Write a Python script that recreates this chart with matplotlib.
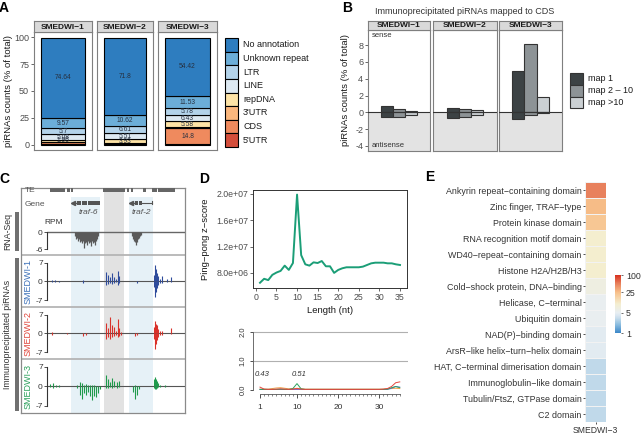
import matplotlib
matplotlib.use("Agg")
import matplotlib.pyplot as plt
import numpy as np
from matplotlib.colors import LinearSegmentedColormap, LogNorm
from matplotlib.patches import Rectangle

plt.rcParams['font.family'] = ['Liberation Sans', 'DejaVu Sans']

# ---------------- data ----------------
# Panel A
samples = ["SMEDWI\u22121", "SMEDWI\u22122", "SMEDWI\u22123"]
categories = ["5'UTR", "CDS", "3'UTR", "repDNA", "LINE", "LTR", "Unknown repeat", "No annotation"]
cat_colors = ["#d44e3b", "#ef8a5e", "#fbb77d", "#fde3a6", "#dde9f2", "#b3d3ea", "#6caed8", "#2e7dbf"]
pct_wi1 = [0.8, 1.2, 0.6, 1.96, 5.08, 5.7, 9.57, 74.64]
pct_wi2 = [0.4, 0.5, 0.4, 3.93, 5.51, 6.61, 10.62, 71.8]
pct_wi3 = [0.6, 14.8, 0.6, 5.58, 6.43, 5.78, 11.53, 54.42]

# Panel B
map_groups = ["map 1", "map 2 \u2013 10", "map >10"]
map_colors = ["#3c4244", "#8d9396", "#cbd0d3"]
sense_wi1 = [0.8, 0.4, 0.2]
anti_wi1 = [-0.6, -0.5, -0.3]
sense_wi2 = [0.5, 0.4, 0.3]
anti_wi2 = [-0.7, -0.5, -0.3]
sense_wi3 = [4.9, 8.1, 1.8]
anti_wi3 = [-0.8, -0.3, -0.1]

# Panel C (genomic position, arbitrary kb units)
te_blocks = [(3, 15), (20, 3), (24, 2), (56, 22), (80, 1.5), (84, 1.5), (96, 3), (105, 5), (111, 17)]
traf6_exons = [(30, 4), (34.8, 5), (40.6, 5), (46.4, 6.6)]
traf2_exons = [(88, 3), (91.6, 3.4)]
rna_pos = [28, 29, 30, 31, 32, 33, 34, 35, 36, 37, 38, 39, 40, 41, 42, 43, 44, 45, 46, 47, 48, 49, 50, 51,
           85, 86, 87, 88, 89, 90, 91, 92, 93, 94]
rna_val = [-1.5, -2.5, -2, -3, -2.5, -3.5, -3, -4, -3, -5.5, -4, -3.5, -4.5, -3, -4, -3.5, -5, -3, -4, -3.5, -4.5, -3, -2.5, -1.5,
           -1.5, -2.5, -3, -3.5, -4.5, -3.5, -2.5, -2, -1.5, -1]
wi1_pos = [5, 8, 12, 36, 59, 61, 63, 65, 67, 69, 71, 72, 90, 107, 108, 109, 110, 111, 113, 115, 120, 124]
wi1_sense = [0.3, 0.3, 0.2, 0.3, 3.5, 2.5, 1.5, 3.0, 1.5, 1.0, 4.0, 2.0, 0.2, 2.5, 6.0, 4.5, 3.0, 2.0, 1.0, 2.0, 0.8, 1.5]
wi1_anti = [-0.3, -0.2, -0.2, -0.6, -1.5, -1.0, -0.5, -1.0, -0.5, -0.3, -1.5, -0.8, -0.6, -2.0, -5.8, -4.0, -2.5, -1.5, -0.5, -0.5, -0.2, -0.3]
wi2_pos = [5, 20, 36, 39, 59, 61, 63, 65, 67, 69, 71, 72, 74, 88, 90, 107, 108, 109, 110, 111, 113, 115, 124]
wi2_sense = [0.3, 0.2, 0.2, 0.2, 4.0, 2.0, 6.0, 3.0, 2.5, 1.0, 5.5, 2.0, 0.5, 0.2, 0.2, 2.5, 4.5, 3.5, 3.0, 1.5, 1.0, 0.8, 2.0]
wi2_anti = [-0.5, -0.3, -1.0, -0.8, -2.0, -1.5, -2.0, -1.5, -1.0, -0.5, -1.5, -1.0, -0.5, -1.0, -0.5, -2.0, -5.8, -4.0, -2.5, -1.5, -0.8, -0.5, -0.3]
wi3_pos = [3, 6, 9, 12, 30, 33, 35, 37, 39, 41, 43, 45, 47, 49, 51, 53, 59, 61, 63, 65, 67, 70, 72,
           86, 88, 90, 92, 107, 108, 109, 110, 111, 113, 118]
wi3_sense = [0.8, 1.0, 0.6, 0.5, 0.3, 1.5, 1.0, 0.5, 0.8, 0.5, 0.3, 0.5, 0.3, 0.2, 0.2, 0.1, 4.0, 2.5, 1.5, 3.0, 2.0, 1.5, 2.0,
             0.2, 0.3, 0.2, 0.1, 2.5, 3.5, 2.5, 2.0, 1.0, 0.5, 0.3]
wi3_anti = [-0.3, -0.5, -0.2, -0.2, -0.5, -3.0, -4.5, -2.5, -3.0, -2.0, -3.5, -5.0, -3.5, -4.0, -2.5, -1.0, -0.5, -0.5, -0.3, -0.5, -0.3, -0.5, -0.3,
            -2.0, -4.7, -3.0, -1.0, -0.5, -1.0, -0.8, -0.5, -0.3, -0.2, -0.1]
track_names = ["SMEDWI-1", "SMEDWI-2", "SMEDWI-3"]
track_colors = ["#2f4c9c", "#d9312a", "#1f9a4c"]
label_colors = ["#3a6fb8", "#e0453a", "#2aa05a"]

# Panel D
length_nt = list(range(1, 36))
pingpong_z = [6.5e6, 7.1e6, 6.9e6, 7.7e6, 8.05e6, 8.3e6, 9.1e6, 8.45e6, 9.5e6, 1.99e7,
              1.07e7, 9.3e6, 9.1e6, 9.6e6, 9.5e6, 9.8e6, 9.0e6, 9.0e6, 8.0e6, 8.45e6,
              8.7e6, 8.85e6, 8.85e6, 8.85e6, 8.85e6, 8.95e6, 9.2e6, 9.45e6, 9.55e6, 9.55e6,
              9.55e6, 9.45e6, 9.45e6, 9.3e6, 9.2e6]
ov_red = [0.10, 0.03, 0.02, 0.02, 0.03, 0.04, 0.03, 0.02, 0.03, 0.05, 0.03, 0.02, 0.02, 0.02, 0.02, 0.02, 0.02, 0.02,
          0.02, 0.02, 0.02, 0.02, 0.02, 0.02, 0.02, 0.02, 0.02, 0.02, 0.02, 0.02, 0.03, 0.05, 0.12, 0.25, 0.28]
ov_green = [0.02, 0.02, 0.02, 0.02, 0.02, 0.03, 0.02, 0.02, 0.05, 0.22, 0.04, 0.02, 0.02, 0.02, 0.02, 0.02, 0.02, 0.02,
            0.02, 0.02, 0.02, 0.02, 0.02, 0.02, 0.02, 0.02, 0.02, 0.02, 0.02, 0.02, 0.02, 0.03, 0.08, 0.12, 0.08]
ov_orange = [0.03, 0.03, 0.03, 0.05, 0.07, 0.08, 0.06, 0.04, 0.04, 0.06, 0.04, 0.03, 0.03, 0.03, 0.03, 0.03, 0.03, 0.03,
             0.03, 0.03, 0.03, 0.03, 0.03, 0.03, 0.03, 0.03, 0.03, 0.03, 0.03, 0.03, 0.03, 0.04, 0.05, 0.06, 0.05]
ov_blue = [0.02] * 32 + [0.06, 0.12, 0.10]
ov_labels = ["0.43", "0.51"]
ov_label_x = [1.6, 10.6]

# Panel E
domains = ["Ankyrin repeat\u2212containing domain", "Zinc finger, TRAF\u2212type", "Protein kinase domain",
           "RNA recognition motif domain", "WD40\u2212repeat\u2212containing domain", "Histone H2A/H2B/H3",
           "Cold\u2212shock protein, DNA\u2212binding", "Helicase, C\u2212terminal", "Ubiquitin domain",
           "NAD(P)\u2212binding domain", "ArsR\u2212like helix\u2212turn\u2212helix domain",
           "HAT, C\u2212terminal dimerisation domain", "Immunoglobulin\u2212like domain",
           "Tubulin/FtsZ, GTPase domain", "C2 domain"]
domain_vals = [50, 26, 22, 10, 10, 10, 7, 5.2, 5.2, 4.6, 4.6, 3.1, 3.1, 3.1, 3.1]

# ---------------- figure ----------------
W, H = 643, 436
fig = plt.figure(figsize=(W / 100, H / 100), dpi=100)
TXT = "#4d4d4d"
GRID = "#7f7f7f"


def add_ax(x0, y0, x1, y1, **kw):
    return fig.add_axes([x0 / W, 1 - y1 / H, (x1 - x0) / W, (y1 - y0) / H], **kw)


def ftext(x, y, s, **kw):
    return fig.text(x / W, 1 - y / H, s, **kw)


def frect(x0, y0, x1, y1, **kw):
    fig.add_artist(Rectangle((x0 / W, 1 - y1 / H), (x1 - x0) / W, (y1 - y0) / H,
                             transform=fig.transFigure, **kw))


def style_frame(ax, color=GRID, lw=0.8):
    for s in ax.spines.values():
        s.set_color(color)
        s.set_linewidth(lw)


def strip(x0, y0, x1, y1, label):
    s = add_ax(x0, y0, x1, y1)
    s.set_facecolor("#d9d9d9")
    style_frame(s)
    s.set_xticks([]); s.set_yticks([])
    s.text(0.5, 0.45, label, ha="center", va="center", fontsize=6, fontweight="bold",
           color="#1a1a1a", transform=s.transAxes)


# panel letters
for lab, x, y in [("A", 4, 8), ("B", 347, 8), ("C", 4, 179), ("D", 204, 179), ("E", 430, 177)]:
    ftext(x, y, lab, fontsize=10, fontweight="bold", ha="center", va="center")

# ---------- Panel A ----------
a_x = [(34, 92), (97, 153), (158, 217)]
a_data = [pct_wi1, pct_wi2, pct_wi3]
for i, ((x0, x1), vals) in enumerate(zip(a_x, a_data)):
    ax = add_ax(x0, 32, x1, 150)
    bottom = 0.0
    for v, c in zip(vals, cat_colors):
        ax.bar(1, v, bottom=bottom, width=0.9, color=c, edgecolor="black", linewidth=0.8)
        if v >= 1.5:
            ax.text(1, bottom + v / 2, f"{v:g}", ha="center", va="center", fontsize=4.8, color="#263040")
        bottom += v
    ax.set_xlim(0.4, 1.6)
    ax.set_ylim(-5, 105)
    ax.set_xticks([])
    style_frame(ax)
    if i == 0:
        ax.set_yticks([0, 25, 50, 75, 100])
        ax.tick_params(axis="y", labelsize=6.5, colors=TXT, length=2, width=0.6, pad=1.5)
    else:
        ax.set_yticks([])
    strip(x0, 21, x1, 32, samples[i])
ftext(9, 91, "piRNAs counts (% of total)", rotation=90, fontsize=6.8, ha="center", va="center", color="#1a1a1a")

# legend A
legA = add_ax(222, 36, 330, 150)
legA.set_xlim(0, 108); legA.set_ylim(114, 0); legA.axis("off")
n = len(categories)
kh = 109 / n
for j, (cat, col) in enumerate(zip(categories[::-1], cat_colors[::-1])):
    legA.add_patch(Rectangle((3, 2 + j * kh), 13, kh, facecolor=col, edgecolor="black", linewidth=0.8))
    legA.text(21, 2 + j * kh + kh / 2, cat, va="center", ha="left", fontsize=6.5, color="#1a1a1a")

# ---------- Panel B ----------
ftext(465, 12, "Immunoprecipitated piRNAs mapped to CDS", fontsize=6.5, ha="center", va="center", color="#333333")
b_x = [(368, 430), (433, 497), (499, 562)]
b_sense = [sense_wi1, sense_wi2, sense_wi3]
b_anti = [anti_wi1, anti_wi2, anti_wi3]
offs = np.array([-0.25, 0.0, 0.25])
for i, (x0, x1) in enumerate(b_x):
    ax = add_ax(x0, 30, x1, 151)
    ax.set_ylim(-4.6, 9.8)
    ax.set_xlim(0.35, 1.65)
    ax.axhspan(-4.6, 0, color="#e3e3e3", zorder=0, lw=0)
    ax.bar(1 + offs, b_sense[i], width=0.25, color=map_colors, edgecolor="#333333", linewidth=0.8, zorder=2)
    ax.bar(1 + offs, b_anti[i], width=0.25, color=map_colors, edgecolor="#333333", linewidth=0.8, zorder=2)
    ax.axhline(0, color="#333333", lw=0.8, zorder=3)
    ax.set_xticks([])
    style_frame(ax)
    if i == 0:
        ax.set_yticks([-4, -2, 0, 2, 4, 6, 8])
        ax.set_yticklabels(["-4", "-2", "0", "2", "4", "6", "8"])
        ax.tick_params(axis="y", labelsize=6.5, colors=TXT, length=2, width=0.6, pad=1.5)
        ax.text(0.06, 0.955, "sense", transform=ax.transAxes, fontsize=5.5, color="#333333", va="center")
        ax.text(0.06, 0.045, "antisense", transform=ax.transAxes, fontsize=5.5, color="#333333", va="center")
    else:
        ax.set_yticks([])
    strip(x0, 21, x1, 30, samples[i])
ftext(346, 90, "piRNAs counts (% of total)", rotation=90, fontsize=6.8, ha="center", va="center", color="#1a1a1a")

legB = add_ax(567, 70, 640, 112)
legB.set_xlim(0, 73); legB.set_ylim(42, 0); legB.axis("off")
kb = 11.8
for j, (g, col) in enumerate(zip(map_groups, map_colors)):
    legB.add_patch(Rectangle((3, 3 + j * kb), 13, kb, facecolor=col, edgecolor="#333333", linewidth=0.8))
    legB.text(21, 3 + j * kb + kb / 2, g, va="center", ha="left", fontsize=6.5, color="#1a1a1a")

# ---------- Panel C ----------
XL = (-26, 138)
box = add_ax(21, 188, 185, 413)
box.set_xlim(*XL); box.set_ylim(413, 188)
box.set_xticks([]); box.set_yticks([])
style_frame(box, color="#8a8a8a", lw=0.9)
box.fill_between([24, 53], 197, 413, color="#e6f1f7", lw=0)
box.fill_between([57, 77], 188, 413, color="#e2e2e2", lw=0)
box.fill_between([82, 106], 197, 413, color="#e6f1f7", lw=0)
for yy in (255, 307, 359):
    box.axhline(yy, color="#b5b5b5", lw=1.3)

ann = add_ax(21, 186, 185, 216)
ann.set_xlim(*XL); ann.set_ylim(30, 0); ann.axis("off")
ann.patch.set_alpha(0)
ann.broken_barh(te_blocks, (2.3, 3.6), facecolor="#666666")
ann.plot([25, 30], [17, 17], color="#555555", lw=0.8)
ann.plot([25.5], [17], marker="<", color="#555555", markersize=3)
ann.broken_barh(traf6_exons, (15, 4), facecolor="#555555")
ann.plot([83, 88], [17, 17], color="#555555", lw=0.8)
ann.plot([84], [17], marker="<", color="#555555", markersize=3)
ann.broken_barh(traf2_exons, (15, 4), facecolor="#555555")
ann.plot([95, 105], [17, 17], color="#555555", lw=0.8)
ann.plot([105, 105], [15.5, 18.5], color="#555555", lw=0.8)
ann.text(-22, 4, "TE", fontsize=6, color="#555555", va="center")
ann.text(-22, 18, "Gene", fontsize=6, color="#555555", va="center")
ann.text(41, 26, "traf-6", fontsize=6, style="italic", color="#555555", ha="center", va="center")
ann.text(94, 26, "traf-2", fontsize=6, style="italic", color="#555555", ha="center", va="center")


def track_axis(ax, top, bot, labels):
    for k in ("top", "right", "bottom"):
        ax.spines[k].set_visible(False)
    ax.spines["left"].set_position(("data", 0))
    ax.spines["left"].set_bounds(bot, top)
    ax.spines["left"].set_color("#333333")
    ax.spines["left"].set_linewidth(0.8)
    ax.set_yticks([top, 0, bot] if top != 0 else [0, bot])
    ax.set_yticklabels(labels)
    ax.tick_params(axis="y", labelsize=6, colors="#333333", length=2, width=0.6, pad=1)
    ax.set_xticks([])
    ax.patch.set_alpha(0)


rna = add_ax(21, 215, 185, 255)
rna.set_xlim(*XL); rna.set_ylim(-8.1, 6)
rna.hlines(0, 0, XL[1], color="#666666", lw=1.0)
rna.vlines(rna_pos, 0, rna_val, color="#5a5a5a", lw=0.9)
track_axis(rna, 0, -6, ["0", "-6"])
rna.text(-3, 3.2, "RPM", fontsize=6, color="#333333", va="center", ha="left")

wi_pos = [wi1_pos, wi2_pos, wi3_pos]
wi_s = [wi1_sense, wi2_sense, wi3_sense]
wi_a = [wi1_anti, wi2_anti, wi3_anti]
for k, (y0, y1, yc) in enumerate([(255, 307, 282), (307, 359, 333), (359, 413, 386)]):
    ax = add_ax(21, y0, 185, y1)
    ax.set_xlim(*XL); ax.set_ylim(-9.6, 9.8)
    ax.hlines(0, 0, XL[1], color="#555555", lw=0.8)
    ax.vlines(wi_pos[k], 0, wi_s[k], color=track_colors[k], lw=0.8)
    ax.vlines(wi_pos[k], 0, wi_a[k], color=track_colors[k], lw=0.8)
    track_axis(ax, 7, -7, ["7", "0", "-7"])
    ftext(28, yc, track_names[k], rotation=90, fontsize=6.5, color=label_colors[k], ha="center", va="center")

frect(15, 212, 19, 251, color="#707070", lw=0)
frect(15, 258, 19, 411, color="#707070", lw=0)
ftext(8, 231, "RNA-Seq", rotation=90, fontsize=6.3, ha="center", va="center", color="#333333")
ftext(8, 334, "Immunoprecipitated piRNAs", rotation=90, fontsize=6.3, ha="center", va="center", color="#333333")

# ---------- Panel D ----------
axd = add_ax(253, 190, 407, 288)
axd.plot(length_nt, pingpong_z, color="#1b9e77", lw=1.4)
axd.set_xlim(-0.7, 36.7)
axd.set_ylim(5.7e6, 2.06e7)
axd.set_xticks([0, 5, 10, 15, 20, 25, 30, 35])
axd.set_yticks([8e6, 1.2e7, 1.6e7, 2.0e7])
axd.set_yticklabels(["8.0e+06", "1.2e+07", "1.6e+07", "2.0e+07"])
axd.tick_params(labelsize=6.3, colors=TXT, length=2, width=0.6, pad=1.5)
style_frame(axd, color="#333333", lw=0.7)
axd.set_xlabel("Length (nt)", fontsize=6.8, color="#1a1a1a", labelpad=3)
ftext(206, 239, "Ping\u2212pong z\u2212score", rotation=90, fontsize=6.8, ha="center", va="center", color="#1a1a1a")

axo = add_ax(253, 328, 408, 394)
axo.set_xlim(-0.7, 37.0)
axo.set_ylim(-0.138, 2.138)
axo.axhline(1.0, color="#b0b0b0", lw=0.8)
axo.axhline(2.0, color="#b0b0b0", lw=0.8)
axo.plot(length_nt, ov_orange, color="#f2a047", lw=0.7)
axo.plot(length_nt, ov_blue, color="#6a6ad0", lw=0.7)
axo.plot(length_nt, ov_green, color="#2ca25f", lw=0.7)
axo.plot(length_nt, ov_red, color="#e3463e", lw=0.7)
for s, xx in zip(ov_labels, ov_label_x):
    axo.text(xx, 0.55, s, fontsize=5.5, style="italic", ha="center", va="center", color="#333333")
for k in ("top", "right"):
    axo.spines[k].set_visible(False)
axo.spines["left"].set_bounds(0, 2)
axo.spines["bottom"].set_bounds(1, 35)
for k in ("left", "bottom"):
    axo.spines[k].set_color("#555555"); axo.spines[k].set_linewidth(0.6)
axo.set_xticks([1, 10, 20, 30])
axo.set_xticks(length_nt, minor=True)
axo.set_yticks([0, 1, 2])
axo.set_yticklabels(["0.0", "1.0", "2.0"], rotation=90, va="center")
axo.tick_params(axis="x", which="major", labelsize=6, colors="#333333", length=3, width=0.6, pad=4)
axo.tick_params(axis="x", which="minor", length=1.5, width=0.5, colors="#555555")
axo.tick_params(axis="y", labelsize=5.5, colors="#333333", length=2.5, width=0.6, pad=2)
axo.patch.set_alpha(0)

# ---------- Panel E ----------
cmap = LinearSegmentedColormap.from_list("hm", [
    (0.0, "#3b87c8"), (0.15, "#8fbfe0"), (0.25, "#c4dbeb"), (0.3, "#d9e6f0"),
    (0.35, "#e8eef2"), (0.5, "#f4eed0"), (0.7, "#f7c08a"), (0.85, "#e8825d"), (1.0, "#d7301f")])
norm = LogNorm(1, 100)
axe = add_ax(585, 182, 606, 422)
vals = np.array(domain_vals).reshape(-1, 1)
mesh = axe.pcolormesh(np.arange(2), np.arange(len(domains) + 1), vals, cmap=cmap, norm=norm,
                      edgecolors="#f2f2f2", linewidth=0.4)
axe.set_ylim(len(domains), 0)
axe.set_yticks(np.arange(len(domains)) + 0.5)
axe.set_yticklabels(domains)
axe.set_xticks([0.5])
axe.set_xticklabels(["SMEDWI\u22123"])
axe.tick_params(labelsize=6.4, colors="#333333", length=1.5, width=0.6, pad=1)
axe.tick_params(axis="x", labelsize=6.2, pad=1.5)
for s in axe.spines.values():
    s.set_visible(False)

cax = add_ax(615, 275, 621, 333)
cb = fig.colorbar(mesh, cax=cax, ticks=[1, 5, 25, 100])
cb.ax.set_yticklabels(["1", "5", "25", "100"])
cb.ax.minorticks_off()
cb.outline.set_visible(False)
cb.ax.tick_params(labelsize=6.3, colors="#333333", length=1.5, width=0.5, pad=2)

fig.savefig("out.png", dpi=100)
